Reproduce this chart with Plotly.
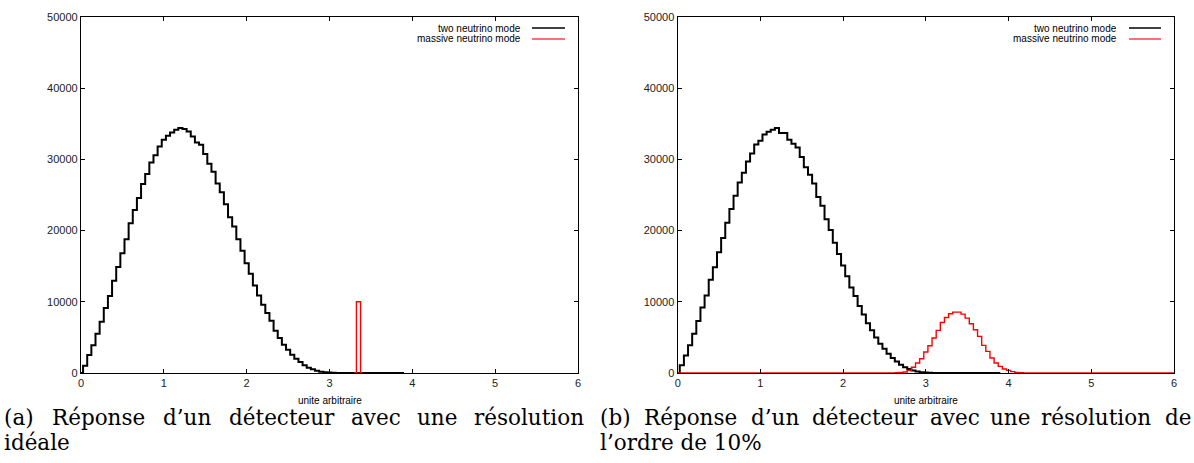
import numpy as np
import plotly.graph_objects as go

# ---------------- data ----------------
bin_width = 0.05

# panel (a): ideal resolution
two_nu_a = [0, 1030, 2520, 3880, 5520, 7200, 9120, 10800, 12950, 14900,
            16830, 18800, 21040, 22900, 24570, 26540, 27940, 29580, 30600, 31820,
            32760, 33320, 33790, 34160, 34400, 34260, 33930, 33230, 32380, 32060,
            30750, 29400, 28250, 26620, 25380, 23700, 21880, 20570, 18800, 17160,
            15430, 13930, 12300, 10890, 9580, 8420, 7340, 5940, 4910, 3970,
            3270, 2570, 2010, 1540, 1080, 750, 510, 330, 190, 100,
            60, 30, 15, 8, 4, 2, 1, 0, 0, 0,
            0, 0, 0, 0, 0, 0, 0, 0, 0]
massive_a_x = [3.30, 3.35, 3.40]
massive_a = [0, 10000, 0]

# panel (b): ~10% resolution
two_nu_b = [0, 1100, 2450, 3900, 5500, 7300, 9200, 10900, 13100, 14850,
            16950, 18950, 21100, 23050, 24900, 26770, 28130, 29720, 30840, 32100,
            32620, 33510, 33880, 34160, 34400, 33700, 33700, 32760, 32200, 31680,
            30330, 28880, 27850, 26630, 24710, 23500, 21600, 20100, 18300, 16700,
            15100, 13600, 12000, 10800, 9400, 8200, 7000, 6000, 5000, 4100,
            3400, 2700, 2100, 1600, 1150, 800, 550, 350, 200, 110,
            60, 30, 15, 8, 4, 2, 1, 0, 0, 0,
            0, 0, 0, 0, 0, 0, 0, 0, 0]
massive_b = [0] * 52 + [20, 40, 80, 140, 370, 800, 1400, 2010, 2950, 3830,
                        4910, 5980, 7100, 7800, 8320, 8550, 8550, 8270, 7710, 6920,
                        6080, 5140, 3880, 3040, 2100, 1400, 935, 560, 370, 190,
                        90, 40, 15, 5]
massive_b = massive_b + [0] * (121 - len(massive_b))

x_ticks = [0, 1, 2, 3, 4, 5, 6]
y_ticks = [0, 10000, 20000, 30000, 40000, 50000]
x_label = "unite arbitraire"
legend_labels = ["two neutrino mode", "massive neutrino mode"]
caption_a = ["(a)", "Réponse", "d’un", "détecteur", "avec", "une", "résolution"]
caption_a2 = "idéale"
caption_b = ["(b)", "Réponse", "d’un", "détecteur", "avec", "une", "résolution", "de"]
caption_b2 = "l’ordre de 10%"

# ---------------- figure ----------------
W, H = 1194, 463
def px(x): return x / W
def py(y): return 1 - y / H

x_a = np.arange(len(two_nu_a)) * bin_width
x_b = np.arange(len(two_nu_b)) * bin_width
x_mb = np.arange(len(massive_b)) * bin_width

fig = go.Figure()
fig.add_trace(go.Scatter(x=x_a, y=two_nu_a, mode="lines", xaxis="x", yaxis="y",
                         line=dict(color="black", width=2, shape="hvh"), showlegend=False))
fig.add_trace(go.Scatter(x=massive_a_x, y=massive_a, mode="lines", xaxis="x", yaxis="y",
                         line=dict(color="#ff0000", width=1.4, shape="hvh"), showlegend=False))
fig.add_trace(go.Scatter(x=x_b, y=two_nu_b, mode="lines", xaxis="x2", yaxis="y2",
                         line=dict(color="black", width=2, shape="hvh"), showlegend=False))
fig.add_trace(go.Scatter(x=x_mb, y=massive_b, mode="lines", xaxis="x2", yaxis="y2",
                         line=dict(color="#ff0000", width=1.4, shape="hvh"), showlegend=False))

tickfont = dict(family="Liberation Sans, Arial, sans-serif", size=11, color="#222222")
ax_common = dict(range=[0, 6], tickvals=x_ticks, ticks="inside", ticklen=4, tickwidth=1,
                 tickcolor="black", showline=True, linecolor="black", linewidth=1.3,
                 mirror="ticks", showgrid=False, zeroline=False, tickfont=tickfont,
                 automargin=False)
ay_common = dict(range=[0, 50000], tickvals=y_ticks, tickformat="d", ticks="inside",
                 ticklen=4, tickwidth=1,
                 tickcolor="black", showline=True, linecolor="black", linewidth=1.3,
                 mirror="ticks", showgrid=False, zeroline=False, tickfont=tickfont,
                 domain=[py(373), py(17)], automargin=False)

fig.update_layout(
    width=W, height=H, margin=dict(l=0, r=0, t=0, b=0, pad=0),
    paper_bgcolor="white", plot_bgcolor="white",
    xaxis=dict(ax_common, domain=[px(81), px(578)], anchor="y"),
    yaxis=dict(ay_common, anchor="x"),
    xaxis2=dict(ax_common, domain=[px(677.7), px(1174)], anchor="y2"),
    yaxis2=dict(ay_common, anchor="x2"),
)

ann = []
shapes = []
small = dict(family="Liberation Sans, Arial, sans-serif", size=10, color="black")
for cx in [(81 + 578) / 2, (677.7 + 1174) / 2]:
    ann.append(dict(x=px(cx), y=py(400), xref="paper", yref="paper", text=x_label,
                    showarrow=False, xanchor="center", yanchor="middle", font=small))

# legends
for text_right, l0, l1 in [(523, 532, 565), (1119, 1129, 1161)]:
    for i, (lab, col) in enumerate(zip(legend_labels, ["black", "#ff4040"])):
        yy = 28 + 11 * i
        ann.append(dict(x=px(text_right), y=py(yy), xref="paper", yref="paper", text=lab,
                        showarrow=False, xanchor="right", yanchor="middle", font=small))
        shapes.append(dict(type="line", xref="paper", yref="paper", x0=px(l0), x1=px(l1),
                           y0=py(yy), y1=py(yy), line=dict(color=col, width=1.5)))

serif = dict(family="DejaVu Serif, serif", size=21.5, color="black")
pos_a = [2, 50, 161, 227, 349, 415, 472]
pos_b = [598, 642, 749, 810, 928, 988, 1039, 1163]
for w, p in zip(caption_a, pos_a):
    ann.append(dict(x=px(p), y=py(417), xref="paper", yref="paper", text=w, showarrow=False,
                    xanchor="left", yanchor="middle", font=serif))
for w, p in zip(caption_b, pos_b):
    ann.append(dict(x=px(p), y=py(417), xref="paper", yref="paper", text=w, showarrow=False,
                    xanchor="left", yanchor="middle", font=serif))
ann.append(dict(x=px(2), y=py(442), xref="paper", yref="paper", text=caption_a2, showarrow=False,
                xanchor="left", yanchor="middle", font=serif))
ann.append(dict(x=px(598), y=py(442), xref="paper", yref="paper", text=caption_b2, showarrow=False,
                xanchor="left", yanchor="middle", font=serif))

fig.update_layout(annotations=ann, shapes=shapes)
fig.write_html("out.html", config={"displayModeBar": False},
               post_script="document.body.style.margin='0';document.body.style.overflow='hidden';")
